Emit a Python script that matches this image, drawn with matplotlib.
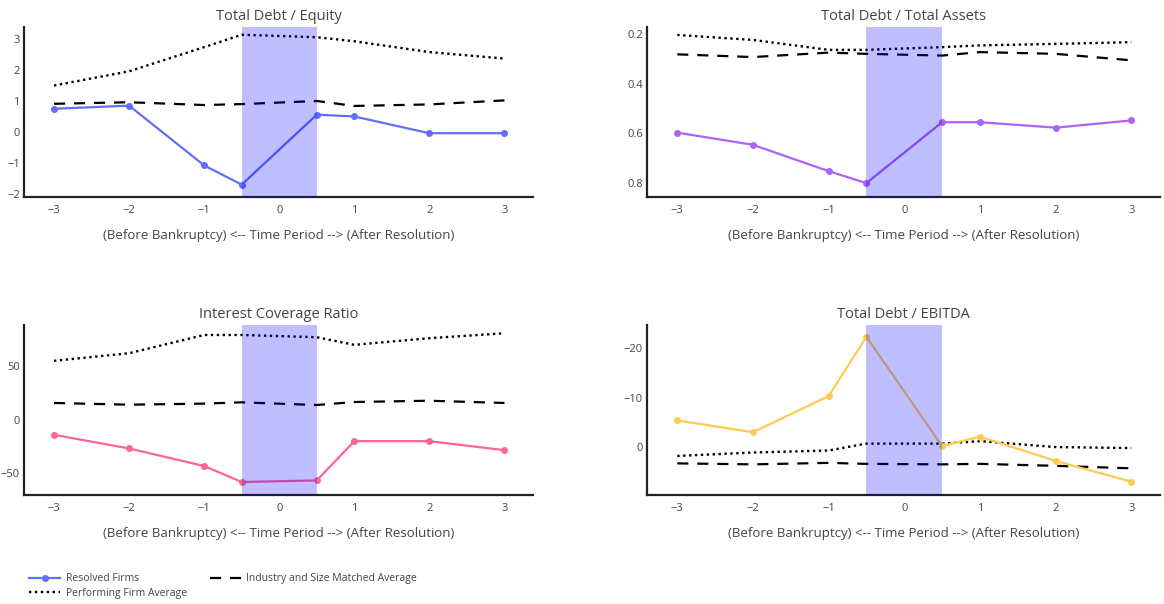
import matplotlib
matplotlib.use('Agg')
import matplotlib.pyplot as plt
from matplotlib.lines import Line2D

# time periods (bankruptcy period split at -0.5 / 0.5)
periods = [-3, -2, -1, -0.5, 0.5, 1, 2, 3]
xticks = [-3, -2, -1, 0, 1, 2, 3]

# Total Debt / Equity
de_resolved = [0.76, 0.86, -1.07, -1.69, 0.57, 0.51, -0.03, -0.03]
de_industry = [0.92, 0.97, 0.88, 0.91, 1.01, 0.85, 0.90, 1.03]
de_performing = [1.51, 1.97, 2.75, 3.15, 3.07, 2.94, 2.59, 2.38]

# Total Debt / Total Assets
da_resolved = [0.597, 0.646, 0.752, 0.800, 0.555, 0.555, 0.577, 0.548]
da_industry = [0.282, 0.293, 0.275, 0.280, 0.287, 0.273, 0.280, 0.306]
da_performing = [0.204, 0.224, 0.264, 0.264, 0.253, 0.246, 0.240, 0.233]

# Interest Coverage Ratio
ic_resolved = [-14.2, -26.9, -43.3, -58.2, -56.7, -20.1, -20.1, -28.5]
ic_industry = [15.5, 13.9, 14.9, 16.1, 13.6, 16.4, 17.6, 15.5]
ic_performing = [54.8, 61.9, 78.9, 78.9, 76.8, 69.7, 75.9, 80.5]

# Total Debt / EBITDA
eb_resolved = [-5.4, -3.0, -10.3, -22.3, -0.2, -2.1, 2.8, 7.0]
eb_industry = [3.3, 3.5, 3.2, 3.4, 3.5, 3.4, 3.8, 4.3]
eb_performing = [1.8, 1.1, 0.7, -0.7, -0.7, -1.2, 0.0, 0.2]

panels = [
    ('Total Debt / Equity', de_resolved, de_industry, de_performing, '#636efa', (-2.09, 3.4), [-2, -1, 0, 1, 2, 3], None),
    ('Total Debt / Total Assets', da_resolved, da_industry, da_performing, '#ab63fa', (0.856, 0.172), [0.2, 0.4, 0.6, 0.8], '{:.1f}'),
    ('Interest Coverage Ratio', ic_resolved, ic_industry, ic_performing, '#ff6692', (-70.3, 88.2), [-50, 0, 50], None),
    ('Total Debt / EBITDA', eb_resolved, eb_industry, eb_performing, '#fecb52', (9.7, -24.7), [-20, -10, 0], None),
]

plt.rcParams['font.family'] = ['Open Sans', 'DejaVu Sans']
W, H = 1164, 604
fig = plt.figure(figsize=(W / 100, H / 100), dpi=100)

boxes = [(24, 533, 27, 197), (647, 1160, 27, 197), (24, 533, 325, 495), (647, 1160, 325, 495)]

for (title, res, ind, perf, color, ylim, yt, fmt), (l, r, t, b) in zip(panels, boxes):
    ax = fig.add_axes([l / W, 1 - b / H, (r - l) / W, (b - t) / H])
    ax.plot(periods, perf, color='black', linestyle=(0, (1, 1.5)), linewidth=1.7, zorder=2)
    ax.plot(periods, ind, color='black', linestyle=(0, (5, 4)), linewidth=1.6, zorder=2)
    ax.plot(periods, res, color=color, linewidth=1.6, marker='o', markersize=4, zorder=3)
    ax.axvspan(-0.5, 0.5, color='blue', alpha=0.25, linewidth=0, zorder=4)
    ax.set_xlim(-3.4, 3.38)
    ax.set_ylim(*ylim)
    ax.set_xticks(xticks)
    ax.set_yticks(yt)
    if fmt:
        ax.set_yticklabels([fmt.format(v) for v in yt])
    ax.tick_params(axis='x', length=0, labelsize=8, labelcolor='#444444', pad=6)
    ax.tick_params(axis='y', length=0, labelsize=8, labelcolor='#444444', pad=3)
    for s in ['top', 'right']:
        ax.spines[s].set_visible(False)
    for s in ['left', 'bottom']:
        ax.spines[s].set_linewidth(1.6)
        ax.spines[s].set_color('#222222')
    ax.set_title(title, fontsize=10.5, color='#444444', pad=5)
    ax.set_xlabel('(Before Bankruptcy) <-- Time Period --> (After Resolution)',
                  fontsize=9.5, color='#444444', labelpad=9)

handles = [
    Line2D([], [], color='#636efa', linewidth=1.6, marker='o', markersize=4),
    Line2D([], [], color='black', linestyle=(0, (1, 1.5)), linewidth=1.7),
    Line2D([], [], color='black', linestyle=(0, (5, 4)), linewidth=1.6),
]
labels = ['Resolved Firms', 'Performing Firm Average', 'Industry and Size Matched Average']
fig.legend(handles, labels, loc='upper left', bbox_to_anchor=(24 / W, 1 - 568 / H),
           ncol=2, frameon=False, fontsize=7.5, labelcolor='#444444',
           handlelength=3.0, handletextpad=0.5, columnspacing=2.2, labelspacing=0.35,
           borderpad=0)

fig.savefig('out.png', dpi=100)
